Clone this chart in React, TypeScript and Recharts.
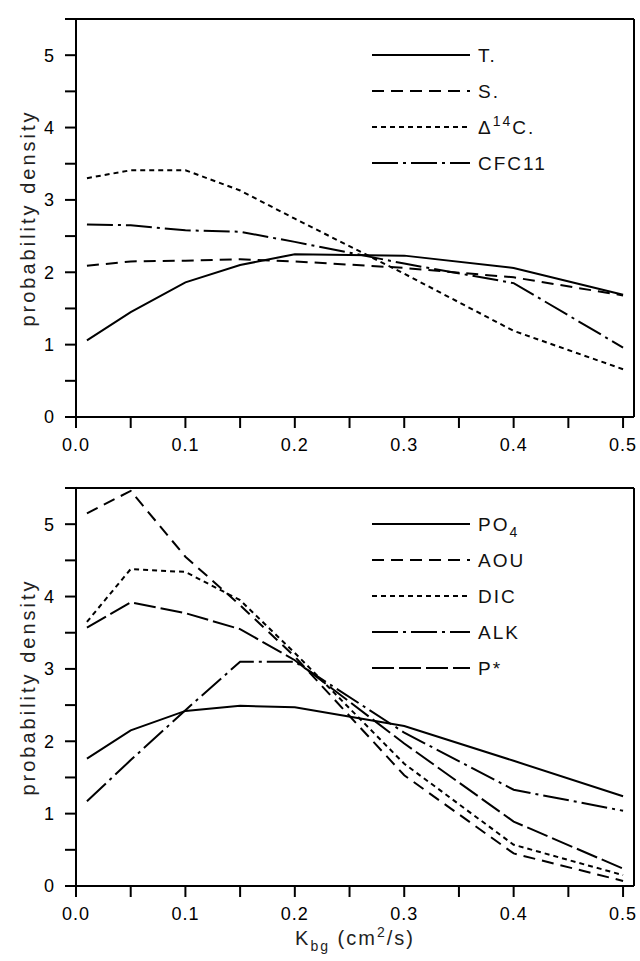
import React from 'react';
import { LineChart, Line, XAxis, YAxis, Legend } from 'recharts';

// K_bg values (cm^2/s)
const kbg = [0.01, 0.05, 0.1, 0.15, 0.2, 0.3, 0.4, 0.5];

// top panel
const tVals = [1.06, 1.45, 1.86, 2.1, 2.25, 2.23, 2.06, 1.69];
const sVals = [2.09, 2.15, 2.16, 2.18, 2.15, 2.06, 1.93, 1.68];
const c14Vals = [3.3, 3.41, 3.41, 3.13, 2.74, 1.98, 1.19, 0.66];
const cfc11Vals = [2.66, 2.65, 2.58, 2.56, 2.42, 2.12, 1.85, 0.96];

// bottom panel
const po4Vals = [1.76, 2.15, 2.42, 2.49, 2.47, 2.21, 1.73, 1.24];
const aouVals = [5.15, 5.46, 4.55, 3.88, 3.17, 1.53, 0.45, 0.07];
const dicVals = [3.65, 4.38, 4.34, 3.95, 3.22, 1.69, 0.57, 0.15];
const alkVals = [1.17, 1.74, 2.43, 3.1, 3.1, 2.12, 1.33, 1.04];
const pstarVals = [3.57, 3.92, 3.77, 3.55, 3.12, 1.97, 0.89, 0.24];

const xTicks = [0, 0.05, 0.1, 0.15, 0.2, 0.25, 0.3, 0.35, 0.4, 0.45, 0.5];
const yTicks = [0, 0.5, 1, 1.5, 2, 2.5, 3, 3.5, 4, 4.5, 5, 5.5];

const topData = kbg.map((x, i) => ({ x, T: tVals[i], S: sVals[i], C14: c14Vals[i], CFC11: cfc11Vals[i] }));
const botData = kbg.map((x, i) => ({ x, PO4: po4Vals[i], AOU: aouVals[i], DIC: dicVals[i], ALK: alkVals[i], PSTAR: pstarVals[i] }));

const FONT = '"Liberation Sans", Arial, Helvetica, sans-serif';
const INK = '#000';

const DASH = {
  solid: undefined as string | undefined,
  dash: '12 7',
  dot: '5 4',
  dashDot: '26 5 3 5',
  longDash: '22 5',
};

const xFmt = (v: number) => (Math.round(v * 100) % 10 === 0 ? v.toFixed(1) : '');
const yFmt = (v: number) => (Number.isInteger(v) && v <= 5 ? String(v) : '');

const lineStyle = { stroke: INK, strokeWidth: 2 };

type LegendItem = { key: string; dash?: string; label: React.ReactNode };

const topLegend: LegendItem[] = [
  { key: 'T', dash: DASH.solid, label: 'T.' },
  { key: 'S', dash: DASH.dash, label: 'S.' },
  {
    key: 'C14',
    dash: DASH.dot,
    label: (
      <>
        Δ<tspan dy={-8} fontSize={14}>14</tspan>
        <tspan dy={8}>C.</tspan>
      </>
    ),
  },
  { key: 'CFC11', dash: DASH.dashDot, label: 'CFC11' },
];

const botLegend: LegendItem[] = [
  {
    key: 'PO4',
    dash: DASH.solid,
    label: (
      <>
        PO<tspan dy={6} fontSize={14}>4</tspan>
      </>
    ),
  },
  { key: 'AOU', dash: DASH.dash, label: 'AOU' },
  { key: 'DIC', dash: DASH.dot, label: 'DIC' },
  { key: 'ALK', dash: DASH.dashDot, label: 'ALK' },
  { key: 'PSTAR', dash: DASH.longDash, label: 'P*' },
];

const LegendSvg = ({ items, y0 }: { items: LegendItem[]; y0: number }) => (
  <svg
    width={640}
    height={240}
    style={{ position: 'absolute', left: 0, top: 0, overflow: 'visible', pointerEvents: 'none' }}
  >
    {items.map((it, i) => {
      const y = y0 + i * 36;
      return (
        <g key={it.key}>
          <line x1={372} x2={470} y1={y} y2={y} stroke={INK} strokeWidth={2} strokeDasharray={it.dash} />
          <text
            x={478}
            y={y + 7}
            fontFamily={FONT}
            fontSize={19}
            letterSpacing={2}
            fill="#111"
          >
            {it.label}
          </text>
        </g>
      );
    })}
  </svg>
);

const YTitle = (props: any) => {
  const vb = props.viewBox || {};
  const cy = (vb.y ?? 19) + (vb.height ?? 398) / 2;
  const cx = 28;
  return (
    <text
      x={cx}
      y={cy}
      transform={`rotate(-90 ${cx} ${cy})`}
      textAnchor="middle"
      dominantBaseline="central"
      fontFamily={FONT}
      fontSize={20}
      letterSpacing={3}
      fill="#222"
    >
      probability density
    </text>
  );
};

const XTitle = () => (
  <text x={355} y={475} textAnchor="middle" fontFamily={FONT} fontSize={20} letterSpacing={2} fill="#222">
    K<tspan dy={6} fontSize={14}>bg</tspan>
    <tspan dy={-6}> (cm</tspan>
    <tspan dy={-8} fontSize={14}>2</tspan>
    <tspan dy={8}>/s)</tspan>
  </text>
);

const tickStyle = { fill: INK, fontSize: 18, fontFamily: FONT, letterSpacing: 1 };

function Axes({ topH, showTitle }: { topH: number; showTitle: boolean }) {
  return null;
}

export default function App() {
  const axisCommon = {
    axisLine: lineStyle,
    tickLine: lineStyle,
  };
  return (
    <div style={{ position: 'absolute', left: 0, top: 0, width: 640, height: 961, background: '#fff' }}>
      <div style={{ position: 'absolute', left: 0, top: 0 }}>
        <LineChart width={640} height={470} data={topData} margin={{ top: 0, right: 0, bottom: 23, left: 0 }}>
          <XAxis
            dataKey="x"
            type="number"
            domain={[0, 0.51]}
            ticks={xTicks}
            interval={0}
            tickFormatter={xFmt}
            tickSize={11}
            tickMargin={10}
            height={30}
            tick={tickStyle}
            {...axisCommon}
          />
          <XAxis
            xAxisId="top"
            orientation="top"
            dataKey="x"
            type="number"
            domain={[0, 0.51]}
            ticks={xTicks}
            interval={0}
            tick={false}
            tickSize={11}
            height={19}
            {...axisCommon}
          />
          <YAxis
            type="number"
            domain={[0, 5.5]}
            ticks={yTicks}
            interval={0}
            tickFormatter={yFmt}
            tickSize={11}
            tickMargin={10}
            width={76}
            tick={tickStyle}
            label={<YTitle />}
            {...axisCommon}
          />
          <YAxis
            yAxisId="right"
            orientation="right"
            type="number"
            domain={[0, 5.5]}
            ticks={yTicks}
            interval={0}
            tick={false}
            tickSize={8}
            width={6}
            {...axisCommon}
          />
          <Legend
            content={() => <LegendSvg items={topLegend} y0={55} />}
            wrapperStyle={{ position: 'absolute', left: 0, top: 0, width: 640, height: 0, margin: 0, padding: 0 }}
          />
          <Line dataKey="T" stroke={INK} strokeWidth={2} dot={false} isAnimationActive={false} />
          <Line dataKey="S" stroke={INK} strokeWidth={2} strokeDasharray={DASH.dash} dot={false} isAnimationActive={false} />
          <Line dataKey="C14" stroke={INK} strokeWidth={2} strokeDasharray={DASH.dot} dot={false} isAnimationActive={false} />
          <Line dataKey="CFC11" stroke={INK} strokeWidth={2} strokeDasharray={DASH.dashDot} dot={false} isAnimationActive={false} />
        </LineChart>
      </div>
      <div style={{ position: 'absolute', left: 0, top: 470 }}>
        <LineChart width={640} height={491} data={botData} margin={{ top: 0, right: 0, bottom: 45, left: 0 }}>
          <XAxis
            dataKey="x"
            type="number"
            domain={[0, 0.51]}
            ticks={xTicks}
            interval={0}
            tickFormatter={xFmt}
            tickSize={11}
            tickMargin={10}
            height={30}
            tick={tickStyle}
            label={<XTitle />}
            {...axisCommon}
          />
          <XAxis
            xAxisId="top"
            orientation="top"
            dataKey="x"
            type="number"
            domain={[0, 0.51]}
            ticks={xTicks}
            interval={0}
            tick={false}
            tickSize={11}
            height={18}
            {...axisCommon}
          />
          <YAxis
            type="number"
            domain={[0, 5.5]}
            ticks={yTicks}
            interval={0}
            tickFormatter={yFmt}
            tickSize={11}
            tickMargin={10}
            width={76}
            tick={tickStyle}
            label={<YTitle />}
            {...axisCommon}
          />
          <YAxis
            yAxisId="right"
            orientation="right"
            type="number"
            domain={[0, 5.5]}
            ticks={yTicks}
            interval={0}
            tick={false}
            tickSize={8}
            width={6}
            {...axisCommon}
          />
          <Legend
            content={() => <LegendSvg items={botLegend} y0={54} />}
            wrapperStyle={{ position: 'absolute', left: 0, top: 0, width: 640, height: 0, margin: 0, padding: 0 }}
          />
          <Line dataKey="PO4" stroke={INK} strokeWidth={2} dot={false} isAnimationActive={false} />
          <Line dataKey="AOU" stroke={INK} strokeWidth={2} strokeDasharray={DASH.dash} dot={false} isAnimationActive={false} />
          <Line dataKey="DIC" stroke={INK} strokeWidth={2} strokeDasharray={DASH.dot} dot={false} isAnimationActive={false} />
          <Line dataKey="ALK" stroke={INK} strokeWidth={2} strokeDasharray={DASH.dashDot} dot={false} isAnimationActive={false} />
          <Line dataKey="PSTAR" stroke={INK} strokeWidth={2} strokeDasharray={DASH.longDash} dot={false} isAnimationActive={false} />
        </LineChart>
      </div>
    </div>
  );
}
